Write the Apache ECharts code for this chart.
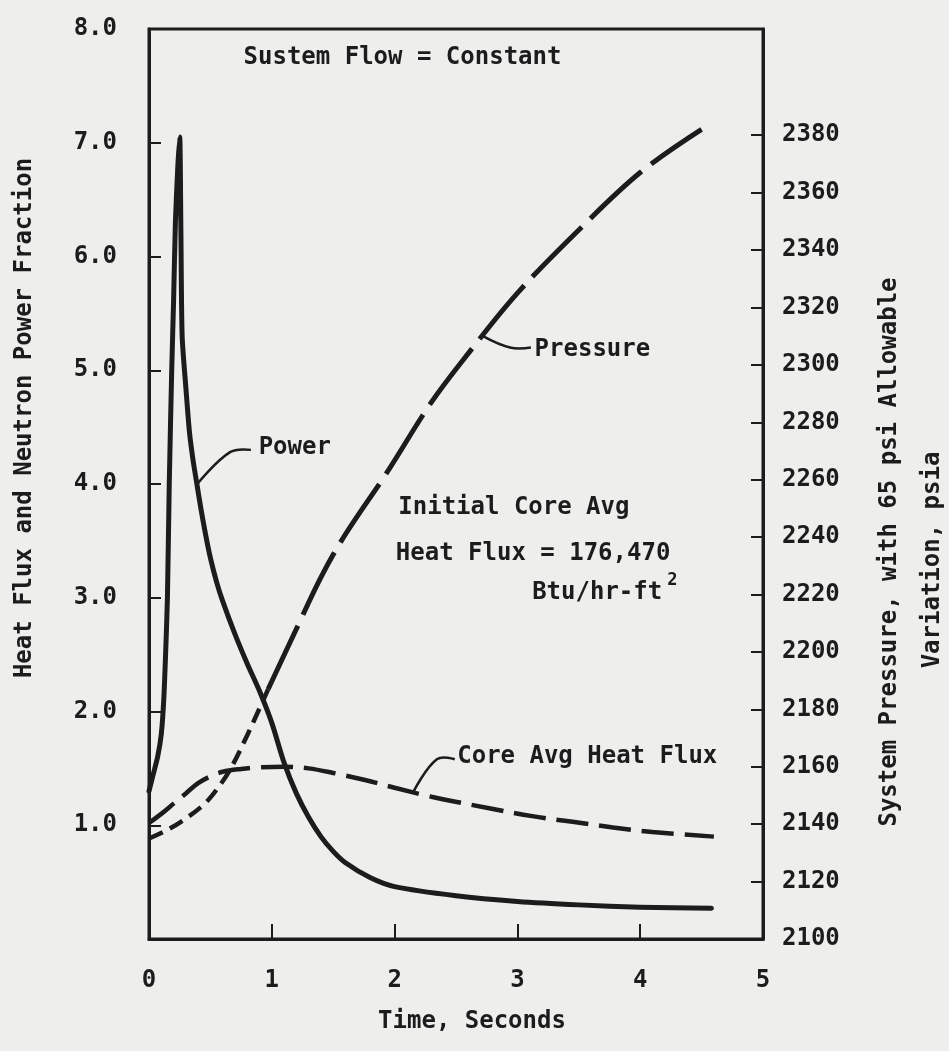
<!DOCTYPE html>
<html>
<head>
<meta charset="utf-8">
<script src="https://cdn.jsdelivr.net/npm/echarts@6/dist/echarts.min.js"></script>
<style>
  html, body { margin: 0; padding: 0; background: #eeeeec; }
  #main { width: 949px; height: 1051px; }
</style>
</head>
<body>
<div id="main"></div>
<script>
// Neutron power (fraction of nominal), left axis
const powerTime = [0, 0.03, 0.07, 0.1, 0.12, 0.135, 0.15, 0.165, 0.185, 0.2, 0.215, 0.235, 0.25,
  0.26, 0.27, 0.3, 0.33, 0.36, 0.39, 0.42, 0.46, 0.5, 0.55, 0.6, 0.7, 0.8, 0.9, 1.0, 1.1, 1.2, 1.3, 1.4,
  1.5, 1.6, 1.8, 2.0, 2.5, 3.0, 3.5, 4.0, 4.58];
const powerValue = [1.30, 1.43, 1.6, 1.8, 2.1, 2.5, 3.0, 4.0, 5.0, 5.6, 6.3, 6.8, 7.05,
  6.2, 5.3, 4.85, 4.45, 4.2, 4.0, 3.8, 3.56, 3.35, 3.14, 2.97, 2.68, 2.42, 2.18, 1.9, 1.55, 1.28, 1.07, 0.9,
  0.77, 0.67, 0.54, 0.46, 0.38, 0.33, 0.30, 0.28, 0.27];

// Core average heat flux (fraction), left axis
const fluxTime = [0, 0.1, 0.2, 0.3, 0.4, 0.5, 0.6, 0.75, 0.9, 1.1, 1.3, 1.5, 1.75, 2.0, 2.3, 2.77,
  3.12, 3.45, 3.78, 4.1, 4.6];
const fluxValue = [1.02, 1.1, 1.19, 1.28, 1.37, 1.43, 1.47, 1.495, 1.51, 1.515, 1.5, 1.46, 1.4, 1.33, 1.25,
  1.15, 1.08, 1.03, 0.98, 0.94, 0.90];

// System pressure (psia), right axis
const pressureTime = [0, 0.15, 0.3, 0.45, 0.55, 0.66, 0.8, 0.97, 1.2, 1.4, 1.6, 1.93, 2.3, 2.6,
  3.0, 3.5, 4.0, 4.5];
const pressureValue = [2135, 2138, 2142, 2147, 2152, 2159, 2171, 2187, 2208, 2226, 2241, 2262,
  2287, 2304, 2325, 2347, 2367, 2382];

// Axis tick labels
const timeTicks = [0, 1, 2, 3, 4, 5];
const fractionTicks = [1, 2, 3, 4, 5, 6, 7, 8];
const pressureTicks = [2100, 2120, 2140, 2160, 2180, 2200, 2220, 2240, 2260, 2280, 2300, 2320,
  2340, 2360, 2380];

const INK = '#1c1c1c';
const FONT = 'DejaVu Sans Mono';
const pairs = (xs, ys) => xs.map((x, i) => [x, ys[i]]);

// The pressure trace is plotted with short dashes early on and long dashes later
const splitAt = pressureTime.indexOf(0.97);
const pressureEarly = pairs(pressureTime, pressureValue).slice(0, splitAt + 1);
const pressureLate = pairs(pressureTime, pressureValue).slice(splitAt);

const chart = echarts.init(document.getElementById('main'), null, { renderer: 'canvas' });

const labelStyle = { color: INK, fontFamily: FONT, fontWeight: 'bold', fontSize: 24 };

chart.setOption({
  backgroundColor: '#eeeeec',
  animation: false,
  grid: {
    left: 149, right: 186, top: 29, bottom: 112,
    show: true, borderColor: INK, borderWidth: 3, backgroundColor: 'transparent'
  },
  xAxis: {
    type: 'value', min: 0, max: 5, interval: 1,
    axisLine: { show: true, lineStyle: { color: INK, width: 3 } },
    axisTick: { show: true, inside: true, length: 15, lineStyle: { color: INK, width: 2 },
      customValues: timeTicks.slice(1, -1) },
    axisLabel: Object.assign({ margin: 30, customValues: timeTicks, formatter: v => String(v) }, labelStyle),
    splitLine: { show: false }
  },
  yAxis: [{
    type: 'value', min: 0, max: 8, interval: 1, position: 'left',
    axisLine: { show: true, onZero: false, lineStyle: { color: INK, width: 3 } },
    axisTick: { show: true, inside: true, length: 12, lineStyle: { color: INK, width: 2 },
      customValues: fractionTicks.slice(0, -1) },
    axisLabel: Object.assign({
      margin: 32, customValues: fractionTicks,
      padding: [0, 0, 14, 0],
      formatter: v => v.toFixed(1)
    }, labelStyle),
    splitLine: { show: false }
  }, {
    type: 'value', min: 2100, max: 2417, interval: 20, position: 'right',
    axisLine: { show: true, onZero: false, lineStyle: { color: INK, width: 3 } },
    axisTick: { show: true, inside: true, length: 12, lineStyle: { color: INK, width: 2 },
      customValues: pressureTicks },
    axisLabel: Object.assign({ margin: 19, customValues: pressureTicks, formatter: v => String(v) }, labelStyle),
    splitLine: { show: false }
  }],
  series: [{
    name: 'Power', type: 'line', yAxisIndex: 0,
    data: pairs(powerTime, powerValue),
    showSymbol: false, smooth: 0.25,
    lineStyle: { color: INK, width: 5, cap: 'round', join: 'round' }
  }, {
    name: 'Core Avg Heat Flux', type: 'line', yAxisIndex: 0,
    data: pairs(fluxTime, fluxValue),
    showSymbol: false, smooth: 0.35,
    lineStyle: { color: INK, width: 4.5, type: [32, 11], cap: 'butt' }
  }, {
    name: 'Pressure', type: 'line', yAxisIndex: 1,
    data: pressureEarly,
    showSymbol: false, smooth: 0.35,
    lineStyle: { color: INK, width: 4.5, type: [15, 8], cap: 'butt' }
  }, {
    name: 'Pressure', type: 'line', yAxisIndex: 1,
    data: pressureLate,
    showSymbol: false, smooth: 0.35,
    lineStyle: { color: INK, width: 5, type: [70, 12], cap: 'butt' }
  }]
});

// Annotation text and leader lines, anchored in data coordinates
const onLeft = p => chart.convertToPixel({ xAxisIndex: 0, yAxisIndex: 0 }, p);
const onRight = p => chart.convertToPixel({ xAxisIndex: 0, yAxisIndex: 1 }, p);

const notes = [
  { text: 'Sustem Flow = Constant', at: onLeft([0.77, 7.75]) },
  { text: 'Power', at: onLeft([0.893, 4.32]) },
  { text: 'Pressure', at: onLeft([3.14, 5.18]) },
  { text: 'Initial Core Avg', at: onLeft([2.03, 3.79]) },
  { text: 'Heat Flux = 176,470', at: onLeft([2.01, 3.39]) },
  { text: 'Btu/hr-ft', at: onLeft([3.12, 3.04]) },
  { text: 'Core Avg Heat Flux', at: onLeft([2.51, 1.60]) }
];
const superscript = { text: '2', at: onLeft([4.22, 3.15]) };

const leaders = [
  [onLeft([0.393, 4.0]), onLeft([0.66, 4.28]), onLeft([0.83, 4.30])],
  [onRight([2.72, 2310]), onLeft([2.94, 5.20]), onLeft([3.11, 5.20])],
  [onLeft([2.156, 1.30]), onLeft([2.344, 1.58]), onLeft([2.49, 1.58])]
];

const graphics = [];
notes.forEach(n => graphics.push({
  type: 'text', x: n.at[0], y: n.at[1],
  style: { text: n.text, fill: INK, font: 'bold 24px "' + FONT + '"', align: 'left', verticalAlign: 'middle' }
}));
graphics.push({
  type: 'text', x: superscript.at[0], y: superscript.at[1],
  style: { text: superscript.text, fill: INK, font: 'bold 17px "' + FONT + '"', align: 'left', verticalAlign: 'middle' }
});
leaders.forEach(pts => graphics.push({
  type: 'polyline', shape: { points: pts, smooth: 0.4 },
  style: { stroke: INK, lineWidth: 2.5, fill: null }
}));

// Axis titles
graphics.push({
  type: 'text', x: 472, y: 1022,
  style: { text: 'Time, Seconds', fill: INK, font: 'bold 24px "' + FONT + '"', align: 'center', verticalAlign: 'middle' }
});
graphics.push({
  type: 'text', x: 25, y: 418, rotation: Math.PI / 2,
  style: { text: 'Heat Flux and Neutron Power Fraction', fill: INK, font: 'bold 24px "' + FONT + '"', align: 'center', verticalAlign: 'middle' }
});
graphics.push({
  type: 'text', x: 890, y: 552, rotation: Math.PI / 2,
  style: { text: 'System Pressure, with 65 psi Allowable', fill: INK, font: 'bold 24px "' + FONT + '"', align: 'center', verticalAlign: 'middle' }
});
graphics.push({
  type: 'text', x: 933, y: 560, rotation: Math.PI / 2,
  style: { text: 'Variation, psia', fill: INK, font: 'bold 24px "' + FONT + '"', align: 'center', verticalAlign: 'middle' }
});

chart.setOption({ graphic: graphics });
</script>
</body>
</html>
